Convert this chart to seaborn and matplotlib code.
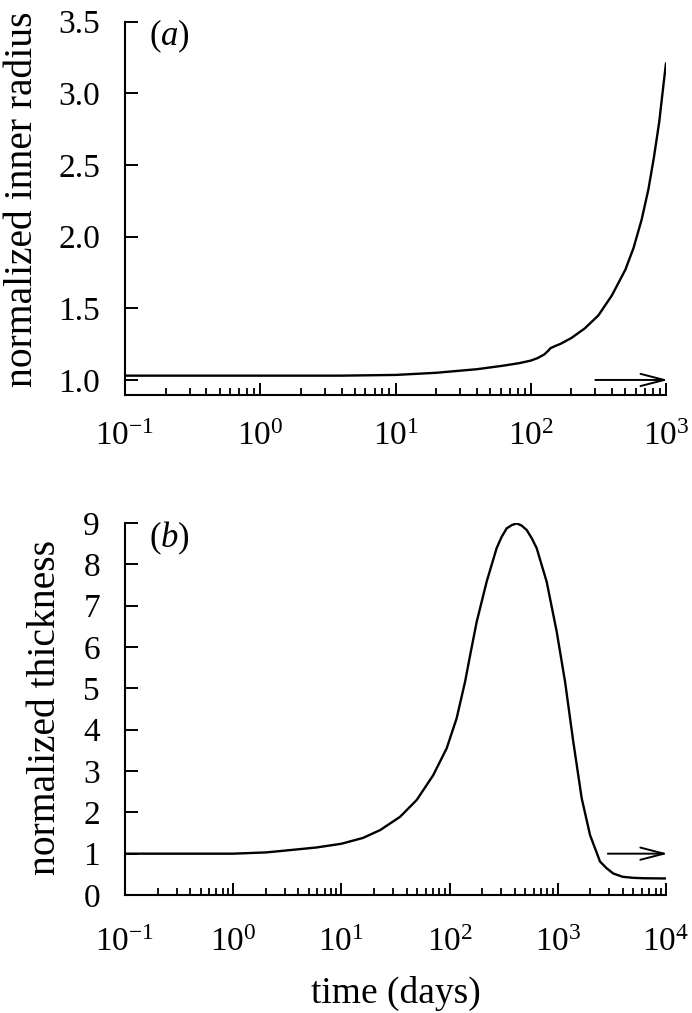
import numpy as np
import pandas as pd
import matplotlib
matplotlib.use('Agg')
import matplotlib.pyplot as plt
import seaborn as sns

# panel (a): normalized inner radius vs time (days)
time_a = [0.1, 1, 3.9, 10, 20, 40, 63, 83, 100, 112, 126, 135, 140, 151, 166,
          200, 251, 316, 398, 501, 575, 661, 741, 813, 891, 955, 977, 1000]
radius_a = [1.03, 1.03, 1.03, 1.035, 1.05, 1.075, 1.10, 1.118, 1.135, 1.152,
            1.178, 1.205, 1.222, 1.236, 1.252, 1.293, 1.36, 1.45, 1.59, 1.77,
            1.92, 2.12, 2.33, 2.55, 2.80, 3.05, 3.13, 3.21]

# panel (b): normalized thickness vs time (days)
time_b = [0.1, 0.32, 1, 2.0, 2.9, 5.9, 10, 15.8, 22.8, 34.8, 49.7, 70.6, 94,
          116, 139, 155, 178, 220, 272, 302, 337, 376, 417, 462, 516, 575, 638,
          789, 977, 1167, 1390, 1663, 1986, 2455, 2818, 3258, 3981, 5012, 6310,
          10000]
thick_b = [1.0, 1.0, 1.0, 1.03, 1.07, 1.15, 1.24, 1.38, 1.57, 1.89, 2.30, 2.90,
           3.55, 4.27, 5.16, 5.81, 6.61, 7.58, 8.39, 8.66, 8.87, 8.95, 8.99, 8.94,
           8.83, 8.63, 8.39, 7.58, 6.37, 5.16, 3.71, 2.34, 1.45, 0.81, 0.65,
           0.52, 0.44, 0.415, 0.405, 0.40]

sns.set_style('ticks')
plt.rcParams['font.family'] = ['Liberation Serif', 'DejaVu Serif']
plt.rcParams['mathtext.fontset'] = 'custom'
plt.rcParams['mathtext.rm'] = 'Liberation Serif'
plt.rcParams['mathtext.it'] = 'Liberation Serif:italic'
for key in ['text.color', 'axes.labelcolor', 'axes.edgecolor', 'xtick.color', 'ytick.color']:
    plt.rcParams[key] = 'black'
plt.rcParams['axes.linewidth'] = 1.5

W, H = 692, 1013
fig = plt.figure(figsize=(W / 100, H / 100), dpi=100)
ax1 = fig.add_axes([125 / W, 1 - 395 / H, 541 / W, (395 - 21.7) / H])
ax2 = fig.add_axes([125 / W, 1 - 895 / H, 541 / W, (895 - 523) / H])

df_a = pd.DataFrame({'time': time_a, 'radius': radius_a})
df_b = pd.DataFrame({'time': time_b, 'thickness': thick_b})
sns.lineplot(data=df_a, x='time', y='radius', ax=ax1, color='black', lw=1.7, estimator=None)
sns.lineplot(data=df_b, x='time', y='thickness', ax=ax2, color='black', lw=1.7, estimator=None)

for ax in (ax1, ax2):
    ax.set_xscale('log')
    sns.despine(ax=ax)

ax1.set_xlim(0.1, 1000)
ax1.set_ylim(0.895, 3.5)
ax1.set_yticks([1.0, 1.5, 2.0, 2.5, 3.0, 3.5])
ax1.set_yticklabels(['1.0', '1.5', '2.0', '2.5', '3.0', '3.5'])
ax1.set_xlabel('')
ax1.set_ylabel('normalized inner radius', fontsize=28.5)
ax1.yaxis.set_label_coords(-0.155, 0.525)

ax2.set_xlim(0.1, 10000)
ax2.set_ylim(0, 9)
ax2.set_yticks(range(10))
ax2.set_xlabel('time (days)', fontsize=27)
ax2.xaxis.set_label_coords(0.5, -0.218)
ax2.set_ylabel('normalized thickness', fontsize=28.5)
ax2.yaxis.set_label_coords(-0.112, 0.503)

# ticks point inward
for ax in (ax1, ax2):
    ax.tick_params(axis='both', which='major', direction='in', length=9, width=1.4,
                   labelsize=24, pad=18, left=True, bottom=True)
    ax.tick_params(axis='both', which='minor', direction='in', length=5, width=1.3)
ax1.tick_params(axis='x', which='major', pad=19)
ax2.tick_params(axis='x', which='major', pad=23)

arrow = dict(arrowstyle='->,head_length=0.85,head_width=0.22', lw=1.4, color='black',
             mutation_scale=20, shrinkA=0, shrinkB=0)
ax1.annotate('', xy=(1035, 1.0), xytext=(300, 1.0), arrowprops=arrow, annotation_clip=False)
ax2.annotate('', xy=(10400, 1.0), xytext=(2900, 1.0), arrowprops=arrow, annotation_clip=False)

ax1.text(0.045, 1.01, r'($\it{a}$)', transform=ax1.transAxes, fontsize=25, va='top')
ax2.text(0.045, 1.01, r'($\it{b}$)', transform=ax2.transAxes, fontsize=25, va='top')

fig.savefig('out.png', dpi=100)
